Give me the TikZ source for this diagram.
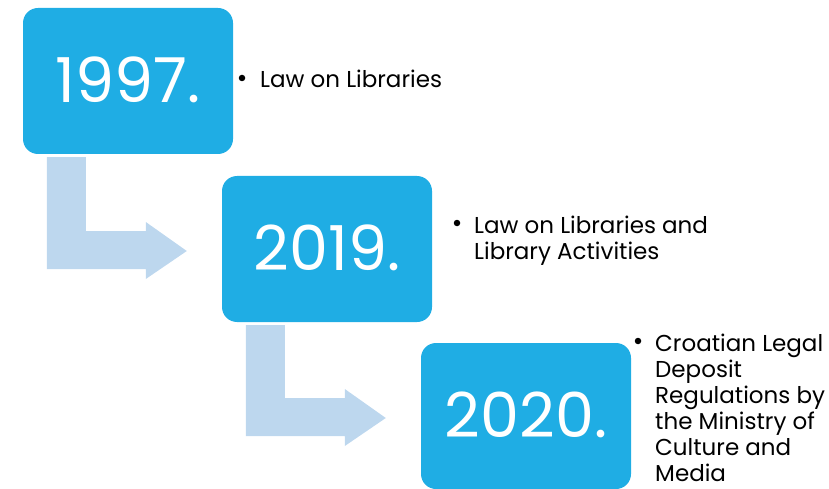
\documentclass[tikz,border=0pt]{standalone}
\usepackage{fontspec}
\setmainfont{Poppins}
\usetikzlibrary{calc}
\definecolor{boxblue}{RGB}{31,173,228}
\definecolor{arrowblue}{RGB}{189,215,238}
\tikzset{
  yearbox/.style={fill=boxblue, draw=none, rounded corners=15pt, minimum width=210pt, minimum height=146pt, text=white, font=\fontsize{62}{64}\selectfont, inner sep=0pt},
  bendarrow/.style={fill=arrowblue, draw=none},
  bullettext/.style={anchor=base west, inner sep=0pt, font=\fontsize{23}{26}\selectfont, text=black},
  bulletmark/.style={circle, fill=black, draw=none, minimum size=6.5pt, inner sep=0pt}
}
\newcommand{\linesof}[1]{\begin{tabular}[t]{@{}l@{}}#1\end{tabular}}
\newcommand{\yr}[1]{\raisebox{2pt}{#1}}
\begin{document}
\begin{tikzpicture}[x=1pt,y=-1pt]
\useasboundingbox (0,0) rectangle (829,489);
\node[yearbox] (b1) at (128,81) {\yr{1997.}};
\node[yearbox] (b2) at (327,249) {\yr{2019.}};
\node[yearbox] (b3) at (526,416) {\yr{2020.}};
% bent arrows
\foreach \a/\b in {b1/b2, b2/b3}{
  \fill[bendarrow] ($(\a.south west)+(24,3)$) -- ($(\a.south west)+(63,3)$)
    |- ($(\b.west)+(-76,-18)$) -- ($(\b.west)+(-76,-27)$) -- ($(\b.west)+(-35,2)$)
    -- ($(\b.west)+(-76,30)$) -- ($(\b.west)+(-76,20)$) -- ($(\b.west)+(-175,20)$) -- cycle;
}
% bullets and texts
\node[bulletmark] (m1) at (242,78) {};
\node[bullettext] (t1) at (260,88) {Law on Libraries};
\node[bulletmark] (m2) at (457,223) {};
\node[bullettext] (t2) at (474,233) {\linesof{Law on Libraries and\\Library Activities}};
\node[bulletmark] (m3) at (638,341) {};
\node[bullettext] (t3) at (655,351) {\linesof{Croatian Legal\\Deposit\\Regulations by\\the Ministry of\\Culture and\\Media}};
\end{tikzpicture}
\end{document}
